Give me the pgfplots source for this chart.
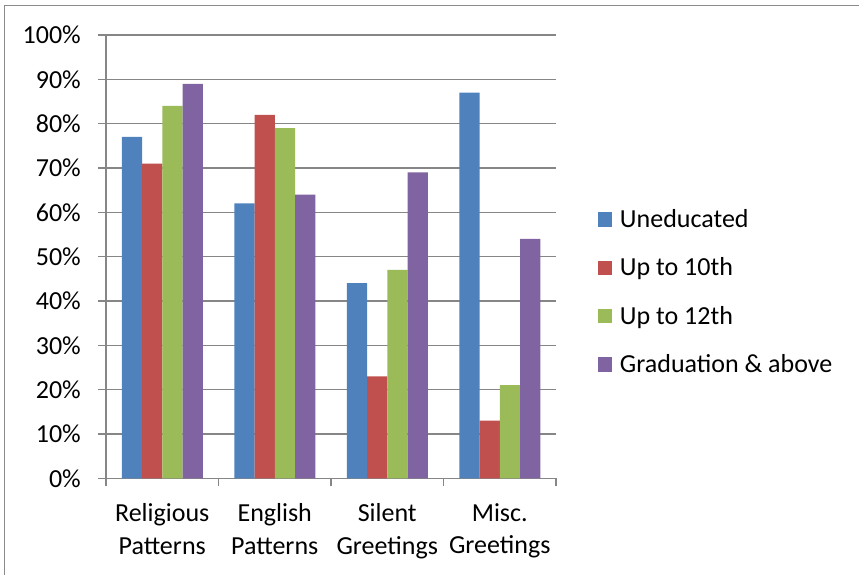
\documentclass[border=0pt]{standalone}
\usepackage{fontspec}
\setmainfont{Carlito}
\usepackage{pgfplots}
\pgfplotsset{compat=1.18}

\definecolor{xlblue}{HTML}{4F81BD}
\definecolor{xlred}{HTML}{C0504D}
\definecolor{xlgreen}{HTML}{9BBB59}
\definecolor{xlpurple}{HTML}{8064A2}
\definecolor{gridgray}{RGB}{134,134,134}
\definecolor{framegray}{RGB}{138,138,138}

\newcommand{\chartfont}{\fontsize{26}{32.5}\selectfont}

\begin{document}
\begin{tikzpicture}
\useasboundingbox (0,0) rectangle (859pt,575pt);
% chart frame (left and top edges)
\draw[line width=1.2pt, framegray] (4.5pt,0pt) -- (4.5pt,569.5pt) -- (859pt,569.5pt);
\begin{axis}[
  at={(106pt,96.7pt)}, anchor=south west,
  width=450pt, height=443.3pt, scale only axis,
  ybar=0pt, bar width=20.25pt,
  xmin=-0.5, xmax=3.5, ymin=0, ymax=100,
  xtick={0,1,2,3},
  xticklabels={{Religious\\Patterns},{English\\Patterns},{Silent\\Greetings},{Misc.\\Greetings}},
  minor xtick={-0.5,0.5,1.5,2.5,3.5},
  ytick={0,10,...,100},
  minor ytick={0,10,...,100},
  /pgf/number format/assume math mode=true,
  yticklabel={\pgfmathprintnumber{\tick}\%},
  major tick length=0pt, minor tick length=8pt, tick align=outside,
  tick style={gridgray, line width=1.1pt},
  ymajorgrids, major grid style={gridgray, line width=1.1pt},
  axis lines*=left, axis line style={gridgray, line width=1.1pt, -},
  xticklabel style={font=\chartfont, align=center, anchor=north, inner sep=0pt, yshift=-25pt},
  yticklabel style={font=\chartfont, anchor=east, inner sep=0pt, xshift=-25pt},
  legend style={at={(1.0933,0.4203)}, anchor=west, draw=none, fill=none,
    inner sep=0pt, outer sep=0pt, row sep=24.3pt, column sep=7.5pt,
    font=\chartfont, nodes={inner sep=0pt, text height=20pt, text depth=4pt}},
  legend cell align=left,
  legend image code/.code={\fill[#1] (0pt,-7.25pt) rectangle (14.5pt,7.25pt);},
]
\addplot[fill=xlblue, draw=none] coordinates {(0,77) (1,62) (2,44) (3,87)};
\addplot[fill=xlred, draw=none] coordinates {(0,71) (1,82) (2,23) (3,13)};
\addplot[fill=xlgreen, draw=none] coordinates {(0,84) (1,79) (2,47) (3,21)};
\addplot[fill=xlpurple, draw=none] coordinates {(0,89) (1,64) (2,69) (3,54)};
\legend{Uneducated, Up to 10th, Up to 12th, Graduation \& above}
\end{axis}
\end{tikzpicture}
\end{document}
